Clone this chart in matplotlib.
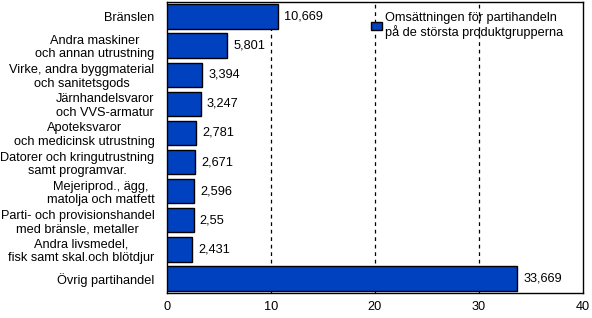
import matplotlib
matplotlib.use("Agg")
import matplotlib.pyplot as plt

categories = [
    "Bränslen",
    "Andra maskiner\noch annan utrustning",
    "Virke, andra byggmaterial\noch sanitetsgods",
    "Järnhandelsvaror\noch VVS-armatur",
    "Apoteksvaror\noch medicinsk utrustning",
    "Datorer och kringutrustning\nsamt programvar.",
    "Mejeriprod., ägg,\nmatolja och matfett",
    "Parti- och provisionshandel\nmed bränsle, metaller",
    "Andra livsmedel,\nfisk samt skal.och blötdjur",
    "Övrig partihandel",
]
values = [10.669, 5.801, 3.394, 3.247, 2.781, 2.671, 2.596, 2.55, 2.431, 33.669]
value_labels = ["10,669", "5,801", "3,394", "3,247", "2,781", "2,671", "2,596", "2,55", "2,431", "33,669"]
xticks = [0, 10, 20, 30, 40]
legend_label = "Omsättningen för partihandeln\npå de största produktgrupperna"

plt.rcParams['font.family'] = ['Liberation Sans', 'DejaVu Sans']

fig = plt.figure(figsize=(5.92, 3.18), dpi=100)
ax = fig.add_axes([167/592, 25/318, (583-167)/592, (316-25)/318])

ypos = list(range(len(categories)))
bars = ax.barh(ypos, values, height=0.84, color='#0041BF', edgecolor='black',
               linewidth=1, label=legend_label, zorder=3)
ax.set_ylim(len(categories) - 0.5, -0.5)
ax.set_xlim(0, 40)
ax.set_yticks(ypos)
ax.set_yticklabels(categories, fontsize=9.2, linespacing=1.15, multialignment='center')
ax.set_xticks(xticks)
ax.set_xticklabels([str(t) for t in xticks], fontsize=9.2)
ax.tick_params(axis='y', length=0, pad=9)
ax.tick_params(axis='x', length=0, pad=6)

for x in xticks[1:-1]:
    ax.axvline(x, color='black', linestyle=(0, (3, 3)), linewidth=0.9, zorder=1)

for b, lab in zip(bars, value_labels):
    ax.text(b.get_width() + 0.6, b.get_y() + b.get_height() / 2, lab,
            va='center', ha='left', fontsize=9.2)

for s in ax.spines.values():
    s.set_color('black')
    s.set_linewidth(1)

leg = ax.legend(loc='upper left', bbox_to_anchor=(0.49, 0.965), frameon=False,
                fontsize=9.2, handlelength=0.9, handleheight=0.6, handletextpad=0.2,
                borderaxespad=0, borderpad=0)
for t in leg.get_texts():
    t.set_linespacing(1.1)

fig.savefig("out.png", dpi=100)
